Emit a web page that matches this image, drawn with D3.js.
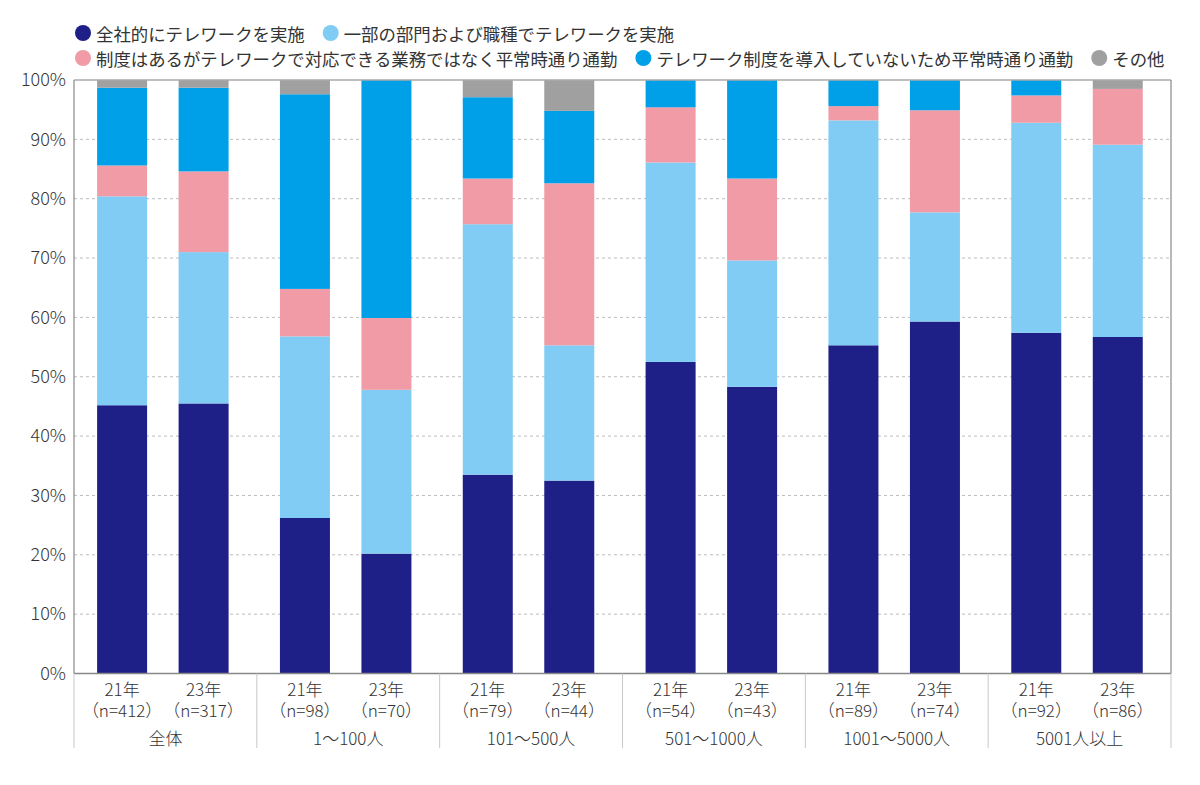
<!DOCTYPE html>
<html>
<head>
<meta charset="utf-8">
<script src="https://cdn.jsdelivr.net/npm/d3@7"></script>
<style>
  body { margin: 0; background: #fff; }
  svg { display: block; font-family: "Noto Sans CJK JP", "Noto Sans", sans-serif; }
</style>
</head>
<body>
<div id="canvas"></div>
<script>
// data
var groups = ['全体', '1～100人', '101～500人', '501～1000人', '1001～5000人', '5001人以上'];
var years = ['21年', '23年'];
var counts = [[412, 317], [98, 70], [79, 44], [54, 43], [89, 74], [92, 86]];
var seriesNames = ['全社的にテレワークを実施', '一部の部門および職種でテレワークを実施',
  '制度はあるがテレワークで対応できる業務ではなく平常時通り通勤',
  'テレワーク制度を導入していないため平常時通り通勤', 'その他'];
var seriesColors = ['#1e1f87', '#80ccf4', '#f09ba6', '#00a0e9', '#a0a0a0'];

// one row per bar: [全社的, 一部, 制度あり通勤, 制度なし通勤, その他] (%)
var zentai   = [[45.2, 35.2, 5.2, 13.1, 1.3], [45.5, 25.5, 13.6, 14.1, 1.3]];
var s1_100   = [[26.2, 30.6, 8.0, 32.8, 2.4], [20.2, 27.6, 12.1, 40.1, 0.0]];
var s101_500 = [[33.5, 42.2, 7.7, 13.7, 2.9], [32.5, 22.8, 27.3, 12.2, 5.2]];
var s501_1k  = [[52.5, 33.6, 9.3, 4.6, 0.0], [48.3, 21.3, 13.8, 16.6, 0.0]];
var s1k_5k   = [[55.3, 37.9, 2.4, 4.4, 0.0], [59.3, 18.4, 17.2, 5.1, 0.0]];
var s5k      = [[57.4, 35.4, 4.6, 2.6, 0.0], [56.7, 32.4, 9.4, 0.0, 1.5]];
var values = [zentai, s1_100, s101_500, s501_1k, s1k_5k, s5k];

var yTicks = [0, 10, 20, 30, 40, 50, 60, 70, 80, 90, 100];

var W = 1200, H = 785;
var m = {t: 80, r: 29, b: 111.5, l: 74};

var svg = d3.select('#canvas').append('svg')
    .attr('width', W).attr('height', H);

var x0 = d3.scaleBand().domain(groups).range([m.l, W - m.r]);
var x1 = d3.scaleBand().domain(years).range([0, x0.bandwidth()])
    .paddingInner(0.3865).paddingOuter(0.315).align(0.45);
var y = d3.scaleLinear().domain([0, 100]).range([H - m.b, m.t]);

// gridlines
svg.append('g').selectAll('line')
    .data(yTicks.filter(function(d){ return d > 0 && d < 100; }))
    .enter().append('line')
    .attr('x1', m.l).attr('x2', W - m.r)
    .attr('y1', function(d){ return y(d); }).attr('y2', function(d){ return y(d); })
    .style('stroke', '#bdbdbd').style('stroke-width', 1)
    .style('stroke-dasharray', '3,3');

// flatten into bars
var bars = [];
groups.forEach(function(g, gi){
  years.forEach(function(yr, yi){
    var v = values[gi][yi], acc = 0;
    var segs = v.map(function(d, si){
      var s = {y0: acc, y1: acc + d, color: seriesColors[si]};
      acc += d;
      return s;
    });
    bars.push({group: g, year: yr, n: counts[gi][yi], segs: segs});
  });
});

var barG = svg.append('g').selectAll('g.bar')
    .data(bars).enter().append('g').attr('class', 'bar')
    .attr('transform', function(d){ return 'translate(' + (x0(d.group) + x1(d.year)) + ',0)'; });

barG.selectAll('rect')
    .data(function(d){ return d.segs.filter(function(s){ return s.y1 - s.y0 > 0; }); })
    .enter().append('rect')
    .attr('x', 0)
    .attr('width', x1.bandwidth())
    .attr('y', function(s){ return y(s.y1); })
    .attr('height', function(s){ return y(s.y0) - y(s.y1); })
    .style('fill', function(s){ return s.color; });

// frame
svg.append('line').attr('x1', m.l).attr('x2', W - m.r).attr('y1', y(100)).attr('y2', y(100))
    .style('stroke', '#aaa').style('stroke-width', 1.5);
svg.append('line').attr('x1', W - m.r).attr('x2', W - m.r).attr('y1', y(100)).attr('y2', y(0))
    .style('stroke', '#888').style('stroke-width', 1.2);
svg.append('line').attr('x1', m.l).attr('x2', m.l).attr('y1', y(100)).attr('y2', y(0))
    .style('stroke', '#888').style('stroke-width', 1.2);
svg.append('line').attr('x1', m.l).attr('x2', W - m.r).attr('y1', y(0)).attr('y2', y(0))
    .style('stroke', '#888').style('stroke-width', 1.5);

// y axis labels
var yAxis = d3.axisLeft(y).tickValues(yTicks)
    .tickFormat(function(d){ return d + '%'; })
    .tickSize(0).tickPadding(8);
var ya = svg.append('g').attr('transform', 'translate(' + m.l + ',0)').call(yAxis);
ya.select('.domain').remove();
ya.selectAll('text').style('font-size', '18px').style('fill', '#333')
    .style('font-family', '"Noto Sans CJK JP", sans-serif').style('font-weight', 300);

// x labels: year and n in one text block
var xl = svg.append('g').style('font-size', '17px').style('fill', '#333')
    .style('font-weight', 300).attr('text-anchor', 'middle');
bars.forEach(function(d){
  var cx = x0(d.group) + x1(d.year) + x1.bandwidth() / 2;
  var t = xl.append('text').attr('x', cx).attr('y', 696);
  t.append('tspan').attr('x', cx).text(d.year);
  t.append('tspan').attr('x', cx).attr('dy', 21).text('（n=' + d.n + '）');
});
groups.forEach(function(g){
  xl.append('text').attr('x', x0(g) + x0.bandwidth() / 2).attr('y', 745).text(g);
});

// group separators
var seps = groups.map(function(g){ return x0(g); }).concat([W - m.r]);
svg.append('g').selectAll('line').data(seps).enter().append('line')
    .attr('x1', function(d){ return d; }).attr('x2', function(d){ return d; })
    .attr('y1', y(0)).attr('y2', 748)
    .style('stroke', '#c8c8c8').style('stroke-width', 1);

// legend
var legendRows = [[0, 1], [2, 3, 4]];
var leg = svg.append('g').style('font-size', '17.4px').style('fill', '#333');
legendRows.forEach(function(row, ri){
  var ly = 33 + ri * 25, lx = 83;
  row.forEach(function(si){
    leg.append('circle').attr('cx', lx).attr('cy', ly).attr('r', 8)
        .style('fill', seriesColors[si]);
    var t = leg.append('text').attr('x', lx + 13).attr('y', ly)
        .attr('dominant-baseline', 'central').text(seriesNames[si]);
    lx = lx + 13 + t.node().getComputedTextLength() + 26;
  });
});
</script>
</body>
</html>
